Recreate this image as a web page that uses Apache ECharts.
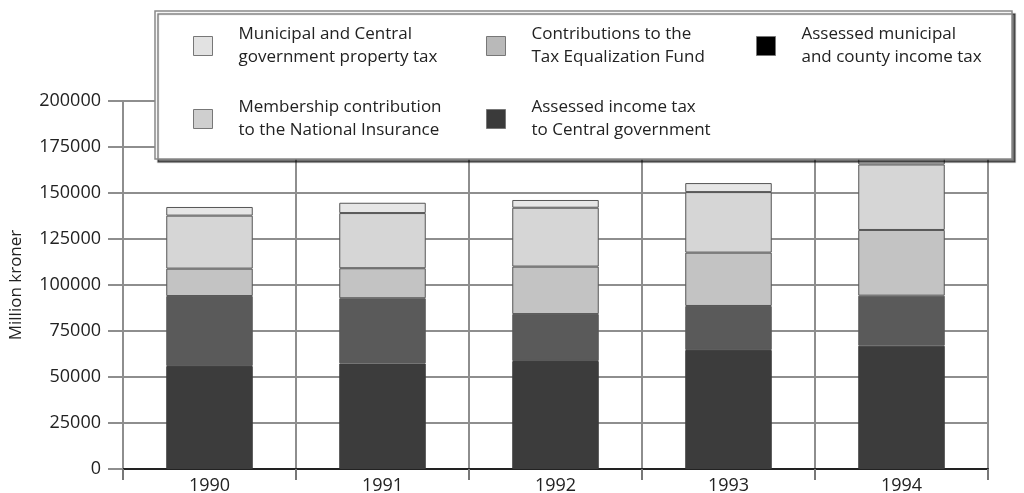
<!DOCTYPE html>
<html>
<head>
<meta charset="utf-8">
<script src="https://cdn.jsdelivr.net/npm/echarts@6/dist/echarts.min.js"></script>
<style>html,body{margin:0;padding:0;background:#fff}#c{width:1024px;height:493px}</style>
</head>
<body>
<div id="c"></div>
<script>
var years = ['1990', '1991', '1992', '1993', '1994'];
var municipalIncomeTax = [56000, 57400, 58700, 64700, 67000];
var centralIncomeTax = [38000, 35400, 25500, 23900, 27200];
var equalizationFund = [14900, 16300, 25800, 29000, 35700];
var nationalInsurance = [28800, 30000, 32000, 32900, 35600];
var propertyTax = [4700, 5600, 4200, 4900, 5000];
var yTicks = [0, 25000, 50000, 75000, 100000, 125000, 150000, 175000, 200000];

var N1 = 'Assessed municipal and county income tax';
var N2 = 'Assessed income tax to Central government';
var N3 = 'Contributions to the Tax Equalization Fund';
var N4 = 'Membership contribution to the National Insurance';
var N5 = 'Municipal and Central government property tax';
var labels = {};
labels[N1] = 'Assessed municipal\nand county income tax';
labels[N2] = 'Assessed income tax\nto Central government';
labels[N3] = 'Contributions to the\nTax Equalization Fund';
labels[N4] = 'Membership contribution\nto the National Insurance';
labels[N5] = 'Municipal and Central\ngovernment property tax';

var FONT = 'Open Sans';
function leg(name, left, top, iconColor) {
  return {
    data: [{name: name, itemStyle: {color: iconColor, borderColor: '#777', borderWidth: 1}}],
    left: left, top: top, padding: 0, z: 20,
    itemWidth: 19, itemHeight: 19, icon: 'rect',
    formatter: function (n) { return labels[n]; },
    textStyle: {fontFamily: FONT, fontSize: 17, color: '#222', lineHeight: 23, padding: [0, 0, 0, 21]},
    selectedMode: false
  };
}
function bar(name, data, color, border) {
  return {
    name: name, type: 'bar', stack: 'total', data: data, barWidth: '50%',
    itemStyle: {color: color, borderColor: border, borderWidth: 1},
    emphasis: {disabled: true}
  };
}
var chart = echarts.init(document.getElementById('c'));
chart.setOption({
  animation: false,
  backgroundColor: '#fff',
  grid: {left: 123, right: 36, top: 101, bottom: 24, outerBoundsMode: 'none', containLabel: false},
  graphic: [{
    type: 'rect', z: 10,
    shape: {x: 155, y: 11, width: 857, height: 148},
    style: {fill: '#fff', stroke: '#888', lineWidth: 1.5, shadowColor: 'rgba(0,0,0,0.55)', shadowOffsetX: 3, shadowOffsetY: 3, shadowBlur: 1}
  }],
  legend: [
    leg(N5, 193, 23, '#e2e2e2'),
    leg(N3, 486, 23, '#b9b9b9'),
    leg(N1, 756, 23, '#000'),
    leg(N4, 193, 96, '#cfcfcf'),
    leg(N2, 486, 96, '#3a3a3a')
  ],
  xAxis: {
    type: 'category', data: years,
    axisLine: {lineStyle: {color: '#222', width: 2}},
    axisTick: {show: true, length: 11, lineStyle: {color: '#777', width: 2}},
    axisLabel: {fontFamily: FONT, fontSize: 18, color: '#222', margin: 8},
    splitLine: {show: true, lineStyle: {color: '#8e8e8e', width: 2}}
  },
  yAxis: {
    type: 'value', min: 0, max: 200000, interval: 25000,
    name: 'Million kroner', nameLocation: 'middle', nameGap: 98,
    nameTextStyle: {fontFamily: FONT, fontSize: 17, color: '#222'},
    axisLine: {show: true, lineStyle: {color: '#8e8e8e', width: 2}},
    axisTick: {show: true, length: 15, lineStyle: {color: '#8e8e8e', width: 2}},
    axisLabel: {fontFamily: FONT, fontSize: 18, color: '#222', margin: 22,
      formatter: function (v) { return yTicks.indexOf(v) >= 0 ? String(v) : ''; }},
    splitLine: {show: true, lineStyle: {color: '#8e8e8e', width: 2}}
  },
  series: [
    bar(N1, municipalIncomeTax, '#3c3c3c', '#3c3c3c'),
    bar(N2, centralIncomeTax, '#5a5a5a', '#5a5a5a'),
    bar(N3, equalizationFund, '#c3c3c3', '#555'),
    bar(N4, nationalInsurance, '#d6d6d6', '#555'),
    bar(N5, propertyTax, '#e6e6e6', '#555')
  ]
});
</script>
</body>
</html>
